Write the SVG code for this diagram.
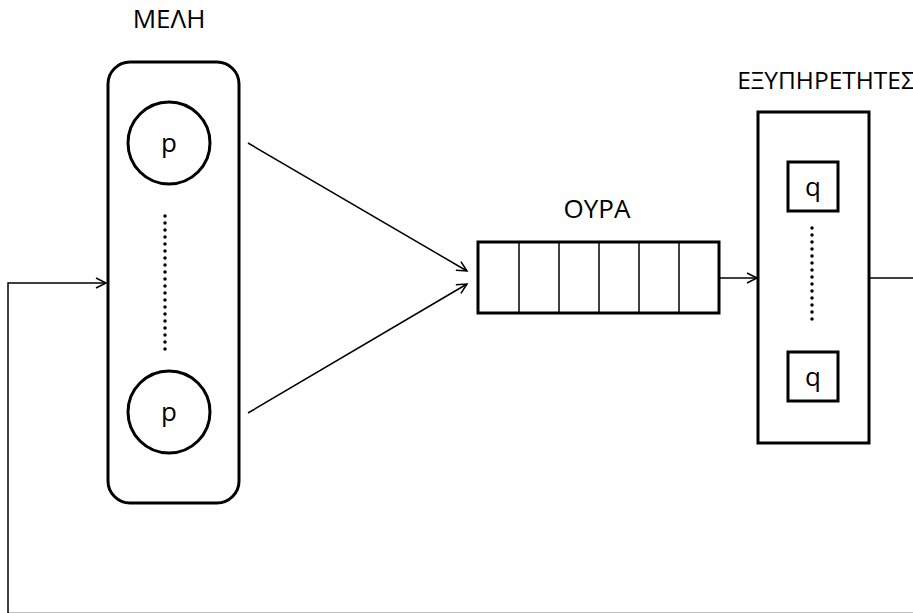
<svg xmlns="http://www.w3.org/2000/svg" width="913" height="613" viewBox="0 0 913 613">
<style>
.lbl{font-family:"Open Sans","Liberation Sans",sans-serif;font-size:26px;fill:#000;text-anchor:middle}
.small{font-size:24.5px}
.box{fill:#fff;stroke:#000;stroke-width:3}
.cell{stroke:#000;stroke-width:1.5;fill:none}
.con{stroke:#000;stroke-width:1.5;fill:none}
.dots{stroke:#000;stroke-width:3.5;stroke-linecap:round;stroke-dasharray:0 7;fill:none}
</style>
<defs>
<marker id="arr" markerUnits="userSpaceOnUse" markerWidth="14" markerHeight="14" refX="11" refY="6" orient="auto">
<path d="M1,1 L11,6 L1,11" fill="none" stroke="#000" stroke-width="1.5"/>
</marker>
</defs>
<rect width="913" height="613" fill="#fff"/>
<g id="members">
<text class="lbl" x="169" y="28">ΜΕΛΗ</text>
<rect class="box" x="108" y="62" width="131" height="441" rx="22"/>
<g id="member1">
<circle class="box" cx="169" cy="143" r="41"/>
<text class="lbl" x="169" y="152">p</text>
</g>
<line class="dots" x1="165" y1="216" x2="165" y2="350"/>
<g id="member2">
<circle class="box" cx="169" cy="412" r="41"/>
<text class="lbl" x="169" y="421">p</text>
</g>
</g>
<g id="queue">
<text class="lbl" x="597" y="218">ΟΥΡΑ</text>
<rect class="box" x="478" y="242" width="241" height="71"/>
<line class="cell" x1="519" y1="242" x2="519" y2="313"/>
<line class="cell" x1="559" y1="242" x2="559" y2="313"/>
<line class="cell" x1="599" y1="242" x2="599" y2="313"/>
<line class="cell" x1="639" y1="242" x2="639" y2="313"/>
<line class="cell" x1="679" y1="242" x2="679" y2="313"/>
</g>
<g id="servers">
<text class="lbl small" x="826" y="89">ΕΞΥΠΗΡΕΤΗΤΕΣ</text>
<rect class="box" x="758" y="112" width="111" height="331"/>
<g id="server1">
<rect class="box" x="788" y="162" width="50" height="49"/>
<text class="lbl" x="813" y="196">q</text>
</g>
<line class="dots" x1="812" y1="228" x2="812" y2="326"/>
<g id="server2">
<rect class="box" x="788" y="352" width="50" height="49"/>
<text class="lbl" x="813" y="386">q</text>
</g>
</g>
<g id="connectors">
<line class="con" x1="248" y1="143" x2="467" y2="271" marker-end="url(#arr)"/>
<line class="con" x1="248" y1="413" x2="467" y2="284" marker-end="url(#arr)"/>
<line class="con" x1="719" y1="278" x2="757" y2="278" marker-end="url(#arr)"/>
<path class="con" d="M869,278 H920 V613.6 H8 V283 H106" marker-end="url(#arr)"/>
</g>
</svg>
